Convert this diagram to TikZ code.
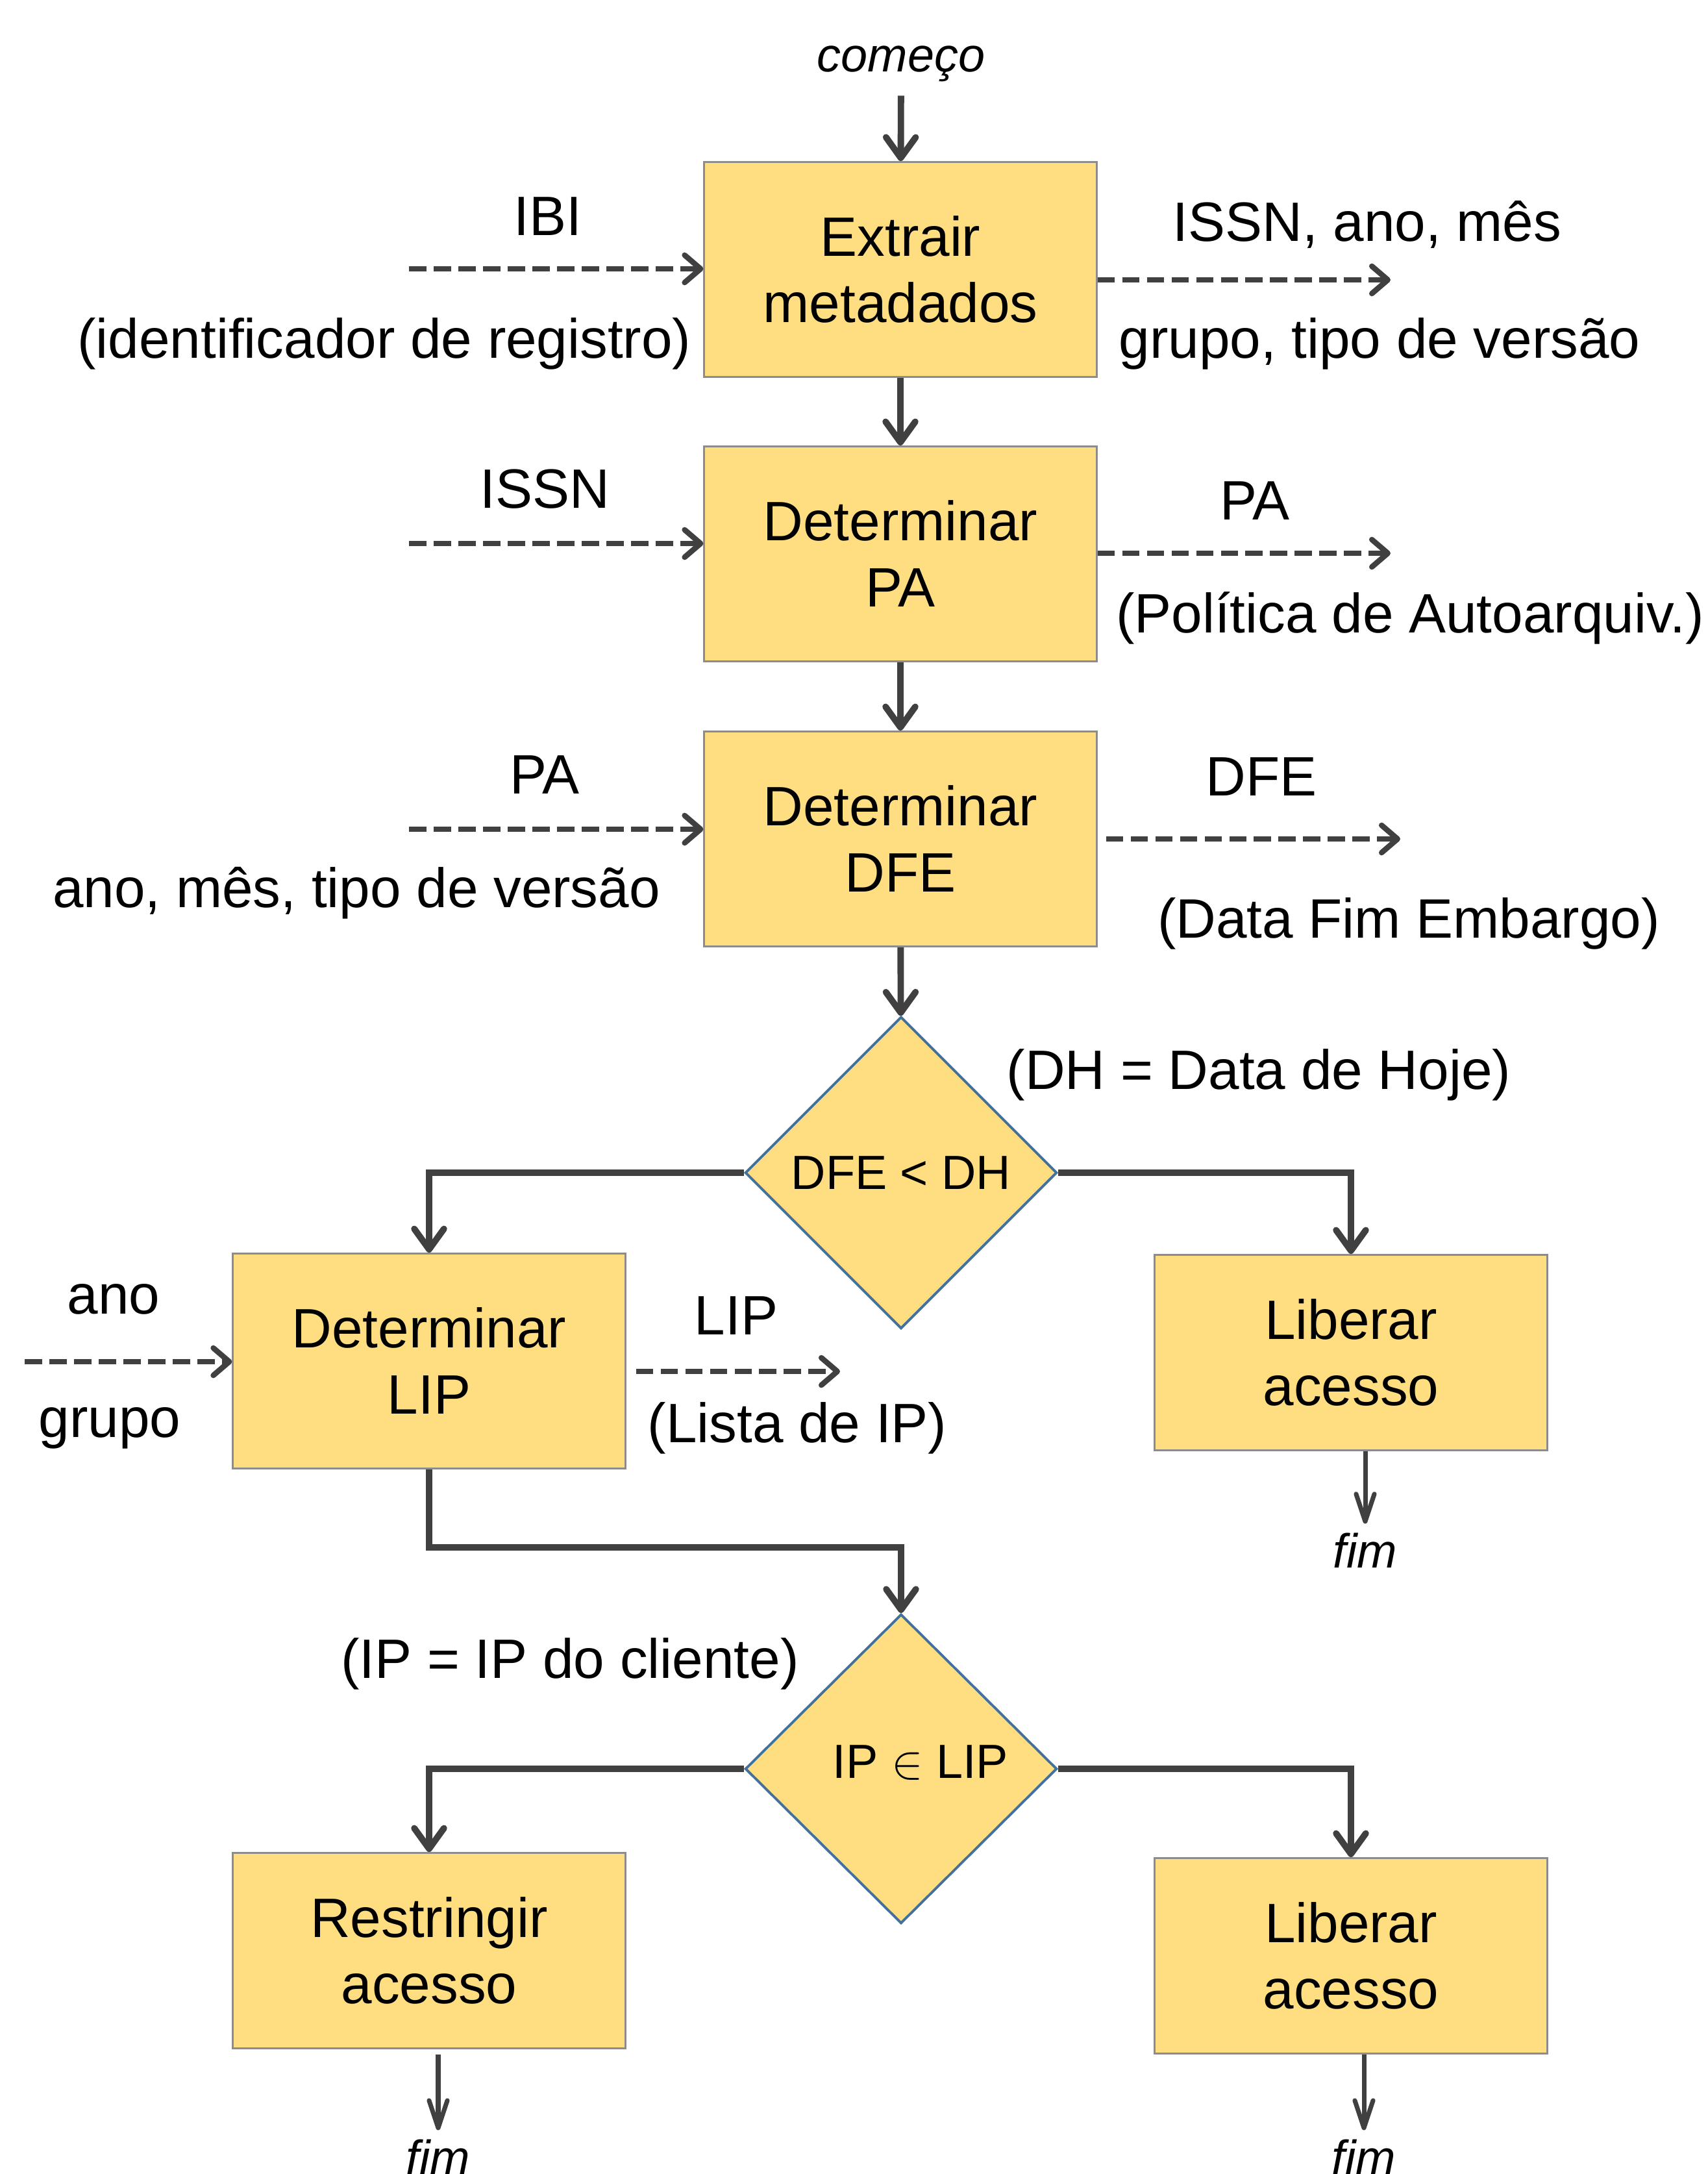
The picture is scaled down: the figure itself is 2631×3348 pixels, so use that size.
\documentclass[tikz,border=0pt]{standalone}
\usepackage{fontspec}
\setmainfont{Liberation Sans}
\usetikzlibrary{arrows.meta,shapes.geometric,calc}
\definecolor{boxfill}{HTML}{FFDE81}
\definecolor{boxline}{HTML}{8C8C8C}
\definecolor{dline}{HTML}{41719C}
\definecolor{linec}{HTML}{404040}
\newcommand\bigtxt{\fontsize{24.3}{29}\selectfont}
\newcommand\smalltxt{\fontsize{21}{25}\selectfont}
\tikzset{
  flow/.style={draw=linec, line width=2.8pt, -{Straight Barb[length=9pt,width=13pt,line cap=round,line join=round]}},
  dashflow/.style={draw=linec, line width=2.4pt, dash pattern=on 7.6pt off 3.2pt, -{Straight Barb[length=7pt,width=12pt,line cap=round,line join=round]}},
  endflow/.style={draw=linec, line width=2pt, -{Straight Barb[length=12pt,width=8pt,line cap=round,line join=round]}},
  procbox/.style={rectangle, draw=boxline, line width=0.8pt, fill=boxfill, minimum width=6.04cm, minimum height=3.31cm, align=center, font=\bigtxt, inner sep=0pt},
  decbox/.style={diamond, aspect=1, draw=dline, line width=1.1pt, fill=boxfill, minimum width=4.8cm, minimum height=4.8cm, inner sep=0pt, font=\smalltxt},
  lab/.style={font=\bigtxt, inner sep=0pt, yshift=-0.06cm},
  term/.style={font=\smalltxt\itshape, inner sep=4pt}
}
\begin{document}
\begin{tikzpicture}[x=0.01cm,y=-0.01cm]
\useasboundingbox (0,0) rectangle (2631,3348);
\fill[white] (0,0) rectangle (2631,3348);

% process nodes
\node[procbox] (b1) at (1387,415) {Extrair\\metadados};
\node[procbox] (b2) at (1387,853) {Determinar\\PA};
\node[procbox] (b3) at (1387,1292) {Determinar\\DFE};
\node[decbox] (d1) at (1388,1806) {DFE < DH};
\node[procbox] (lip) at (661,2096) {Determinar\\LIP};
\node[procbox, minimum height=3.01cm] (lib1) at (2081,2083) {Liberar\\acesso};
\node[decbox, minimum height=4.76cm] (d2) at (1388,2724) {\raisebox{0.1cm}[\height][\depth]{\hspace*{0.6cm}IP $\in$ LIP}};
\node[procbox, minimum height=3.01cm] (rest) at (661,3004) {Restringir\\acesso};
\node[procbox, minimum height=3.01cm] (lib2) at (2081,3012) {Liberar\\acesso};

% terminals
\node[term, inner sep=6pt] (start) at (1388,98) {começo};
\node[term] (fim1) at (2103,2388) {fim};
\node[term] (fim2) at (675,3322) {fim};
\node[term] (fim3) at (2101,3322) {fim};

% main flow
\draw[flow] (start) -- (b1);
\draw[flow] (b1) -- (b2);
\draw[flow] (b2) -- (b3);
\draw[flow] (b3) -- (d1);
\draw[flow] (d1.west) -| (lip.north);
\draw[flow] (d1.east) -| (lib1.north);
\coordinate (bend) at (1388,2383);
\draw[flow] (lip.south) |- (bend) -- (d2.north);
\draw[flow] (d2.west) -| (rest.north);
\draw[flow] (d2.east) -| (lib2.north);
\draw[endflow] (lib1.south -| fim1) -- (fim1);
\draw[endflow] ($(rest.south -| fim2)+(0,8)$) -- (fim2);
\draw[endflow] (lib2.south -| fim3) -- (fim3);

% data flow (dashed)
\coordinate (i1) at (630,414);
\coordinate (o1) at (2142,431);
\coordinate (i2) at (630,837);
\coordinate (o2) at (2142,852);
\coordinate (i3) at (630,1277);
\coordinate (o3) at (2157,1292);
\coordinate (i4) at (38,2097);
\coordinate (o4) at (1294,2112);
\draw[dashflow] (i1) -- (i1 -| b1.west);
\draw[dashflow] (o1 -| b1.east) -- (o1);
\draw[dashflow] (i2) -- (i2 -| b2.west);
\draw[dashflow] (o2 -| b2.east) -- (o2);
\draw[dashflow] (i3) -- (i3 -| b3.west);
\draw[dashflow] ($(o3 -| b3.east)+(13,0)$) -- (o3);
\draw[dashflow] (i4) -- (i4 -| lip.west);
\draw[dashflow] ($(o4 -| lip.east)+(15,0)$) -- (o4);

% labels
\node[lab] (l1) at (844,327) {IBI};
\node[lab] (l2) at (592,523) {(identificador de registro)};
\node[lab] (l3) at (2106,340) {ISSN, ano, mês};
\node[lab] (l4) at (2125,523) {grupo, tipo de versão};
\node[lab] (l5) at (839,747) {ISSN};
\node[lab] (l6) at (1933,765) {PA};
\node[lab] (l7) at (2172,946) {(Política de Autoarquiv.)};
\node[lab] (l8) at (839,1187) {PA};
\node[lab] (l9) at (549,1369) {ano, mês, tipo de versão};
\node[lab] (l10) at (1943,1190) {DFE};
\node[lab] (l11) at (2170,1416) {(Data Fim Embargo)};
\node[lab] (l12) at (1939,1649) {(DH = Data de Hoje)};
\node[lab] (l13) at (175,1995) {ano};
\node[lab] (l14) at (169,2193) {grupo};
\node[lab] (l15) at (1134,2020) {LIP};
\node[lab] (l16) at (1228,2193) {(Lista de IP)};
\node[lab] (l17) at (878,2556) {(IP = IP do cliente)};
\end{tikzpicture}
\end{document}
